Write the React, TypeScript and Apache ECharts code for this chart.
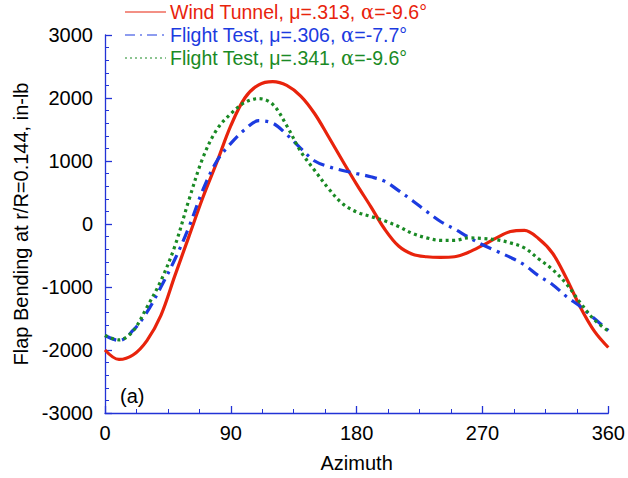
import React, { useEffect, useRef } from "react";
import * as echarts from "echarts";

const azimuth = [0, 10, 20, 30, 40, 50, 60, 70, 80, 90, 100, 110, 120, 130, 140, 150, 160, 170, 180, 190, 200, 210, 220, 230, 240, 250, 260, 270, 280, 290, 300, 310, 320, 330, 340, 350, 360];

const windTunnel = [-2000, -2150, -2080, -1850, -1450, -820, -200, 420, 980, 1560, 2000, 2210, 2260, 2200, 2030, 1750, 1380, 1000, 630, 280, -80, -350, -480, -520, -530, -520, -450, -340, -220, -120, -100, -230, -460, -860, -1320, -1700, -1960];

const flight306 = [-1770, -1850, -1690, -1400, -1000, -560, -50, 540, 1000, 1280, 1500, 1640, 1600, 1420, 1200, 1000, 910, 850, 800, 750, 680, 530, 370, 200, 40, -80, -210, -330, -430, -530, -650, -820, -960, -1150, -1310, -1500, -1690];

const flight341 = [-1770, -1840, -1700, -1320, -900, -350, 380, 1050, 1500, 1750, 1930, 1990, 1900, 1560, 1150, 850, 560, 320, 190, 120, 50, -40, -150, -220, -260, -260, -220, -230, -250, -300, -380, -550, -720, -950, -1250, -1520, -1700];

const xTicks = [0, 90, 180, 270, 360];
const yTicks = [-3000, -2000, -1000, 0, 1000, 2000, 3000];

const legendItems = [
  { text: "Wind Tunnel, μ=.313, ", angle: "α=-9.6°", color: "#e8230c", dash: "solid" as any },
  { text: "Flight Test, μ=.306, ", angle: "α=-7.7°", color: "#1c3be0", dash: [10, 5, 2, 5] as any },
  { text: "Flight Test, μ=.341, ", angle: "α=-9.6°", color: "#1a8a25", dash: [2, 3] as any },
];

const FONT = "'Liberation Sans', Arial, sans-serif";
const AXIS_COLOR = "#2233d6";

export default function App() {
  const ref = useRef<HTMLDivElement>(null);
  useEffect(() => {
    if (!ref.current) return;
    const chart = echarts.init(ref.current, null, { renderer: "svg" });
    const mk = (vals: number[]) => azimuth.map((a, i) => [a, vals[i]]);
    const seriesStyles = [
      { data: windTunnel, color: "#e8230c", type: "solid" as any, width: 3.2 },
      { data: flight306, color: "#1c3be0", type: [12, 6, 3, 6] as any, width: 3.2 },
      { data: flight341, color: "#1a8a25", type: [3, 3.5] as any, width: 3.2 },
    ];
    const legendGraphics: any[] = [];
    const ly = [12, 35, 58];
    legendItems.forEach((it, i) => {
      legendGraphics.push({
        type: "line",
        shape: { x1: 125, y1: ly[i], x2: 166, y2: ly[i] },
        style: { stroke: it.color, lineWidth: 1.2, lineDash: it.dash === "solid" ? null : it.dash },
      });
      legendGraphics.push({
        type: "text",
        x: 170,
        y: ly[i],
        style: {
          text: "{t|" + it.text + "}{a|" + it.angle.slice(0, 1) + "}{t|" + it.angle.slice(1) + "}",
          verticalAlign: "middle",
          rich: {
            t: { fontFamily: FONT, fontSize: 19.5, lineHeight: 20, fill: it.color },
            a: { fontFamily: "'DejaVu Serif', 'Liberation Serif', serif", fontSize: 19.5, lineHeight: 20, fill: it.color },
          },
        },
      });
    });
    legendGraphics.push({
      type: "text",
      x: 120,
      y: 396,
      style: { text: "(a)", fontFamily: FONT, fontSize: 20, fill: "#000", verticalAlign: "middle" },
    });

    chart.setOption({
      animation: false,
      grid: { left: 105, right: 16, top: 35, bottom: 63 },
      xAxis: {
        type: "value",
        min: xTicks[0],
        max: xTicks[xTicks.length - 1],
        interval: 90,
        name: "Azimuth",
        nameLocation: "middle",
        nameGap: 40,
        nameTextStyle: { fontFamily: FONT, fontSize: 20, color: "#000" },
        axisLine: { show: true, onZero: false, lineStyle: { color: AXIS_COLOR, width: 1.3 } },
        axisTick: { show: true, inside: true, length: 7, lineStyle: { color: AXIS_COLOR, width: 1.3 } },
        minorTick: { show: true, splitNumber: 4, length: 4, lineStyle: { color: AXIS_COLOR, width: 1 } },
        axisLabel: { fontFamily: FONT, fontSize: 20, color: "#000", margin: 10 },
        splitLine: { show: false },
      },
      yAxis: {
        type: "value",
        min: yTicks[0],
        max: yTicks[yTicks.length - 1],
        interval: 1000,
        name: "Flap Bending at r/R=0.144, in-lb",
        nameLocation: "middle",
        nameGap: 73,
        nameRotate: 90,
        nameTextStyle: { fontFamily: FONT, fontSize: 20, color: "#000" },
        axisLine: { show: true, onZero: false, lineStyle: { color: AXIS_COLOR, width: 1.3 } },
        axisTick: { show: true, inside: true, length: 7, lineStyle: { color: AXIS_COLOR, width: 1.3 } },
        minorTick: { show: true, splitNumber: 5, length: 4, lineStyle: { color: AXIS_COLOR, width: 1 } },
        axisLabel: { fontFamily: FONT, fontSize: 20, color: "#000", margin: 12, formatter: (v: number) => String(v) },
        splitLine: { show: false },
      },
      series: seriesStyles.map((s) => ({
        type: "line",
        data: mk(s.data),
        smooth: 0.35,
        showSymbol: false,
        lineStyle: { color: s.color, width: s.width, type: s.type },
      })),
      graphic: legendGraphics,
    });
    return () => chart.dispose();
  }, []);
  return <div ref={ref} style={{ width: 628, height: 478, position: "absolute", left: 0, top: 0 }} />;
}
